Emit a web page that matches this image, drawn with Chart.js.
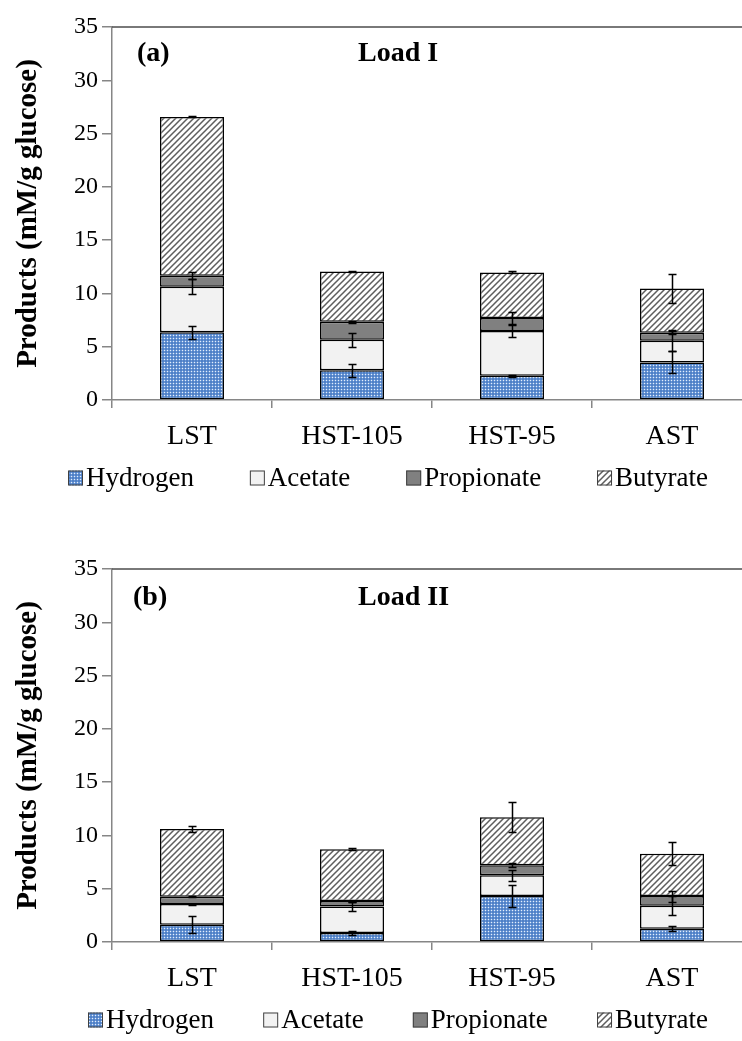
<!DOCTYPE html>
<html>
<head>
<meta charset="utf-8">
<script src="https://cdn.jsdelivr.net/npm/chart.js@4.4.1/dist/chart.umd.min.js"></script>
<style>
  html, body { margin: 0; padding: 0; background: #fff; overflow: hidden; }
  body { width: 742px; height: 1041px; position: relative; }
  .panel { position: absolute; left: 0; width: 770px; height: 499px; }
  #panelA { top: 0; }
  #panelB { top: 542px; }
</style>
</head>
<body>
<div class="panel" id="panelA"><canvas id="chartA"></canvas></div>
<div class="panel" id="panelB"><canvas id="chartB"></canvas></div>
<script>
const categories = ['LST', 'HST-105', 'HST-95', 'AST'];
const seriesNames = ['Hydrogen', 'Acetate', 'Propionate', 'Butyrate'];
const yMin = 0;
const yMax = 35;
const yStep = 5;

// (a) Load I  - stacked values and +/- error
const hydrogenI = [6.35, 2.80, 2.28, 3.53];
const acetateI = [4.28, 2.85, 4.19, 2.03];
const propionateI = [1.03, 1.69, 1.22, 0.75];
const butyrateI = [14.90, 4.72, 4.28, 4.16];
const hydrogenErrI = [0.62, 0.60, 0.10, 1.03];
const acetateErrI = [0.70, 0.65, 0.57, 1.00];
const propionateErrI = [0.33, 0.10, 0.58, 0.15];
const butyrateErrI = [0.05, 0.05, 0.10, 1.35];

// (b) Load II
const hydrogenII = [1.62, 0.84, 4.31, 1.24];
const acetateII = [1.94, 2.49, 1.96, 2.16];
const propionateII = [0.68, 0.51, 0.94, 0.91];
const butyrateII = [6.37, 4.87, 4.49, 3.96];
const hydrogenErrII = [0.78, 0.22, 1.07, 0.22];
const acetateErrII = [0.05, 0.40, 0.53, 0.87];
const propionateErrII = [0.05, 0.05, 0.19, 0.52];
const butyrateErrII = [0.30, 0.10, 1.42, 1.08];

const serif = "'Liberation Serif', 'Times New Roman', serif";
Chart.defaults.font.family = serif;
Chart.defaults.color = '#000';

const scratch = document.createElement('canvas').getContext('2d');

function dotsPattern() {
    const c = document.createElement('canvas');
    c.width = 3; c.height = 3;
    const g = c.getContext('2d');
    g.fillStyle = '#6a97d6';
    g.fillRect(0, 0, 3, 3);
    g.fillStyle = '#4f80c6';
    g.fillRect(0, 0, 2, 2);
    g.fillStyle = '#e6eef9';
    g.fillRect(2, 2, 1, 1);
    return scratch.createPattern(c, 'repeat');
}

function hatchPattern() {
    const n = 6;
    const c = document.createElement('canvas');
    c.width = n; c.height = n;
    const g = c.getContext('2d');
    g.fillStyle = '#ffffff';
    g.fillRect(0, 0, n, n);
    g.strokeStyle = '#5e5e5e';
    g.lineWidth = 1.5;
    g.beginPath();
    g.moveTo(-1, n + 1); g.lineTo(n + 1, -1);
    g.moveTo(-1, 1); g.lineTo(1, -1);
    g.moveTo(n - 1, n + 1); g.lineTo(n + 1, n - 1);
    g.stroke();
    return scratch.createPattern(c, 'repeat');
}

const fills = [dotsPattern(), '#f2f2f2', '#808080', hatchPattern()];

// error bars on top of each stacked segment
const errorBars = {
    id: 'errorBars',
    afterDatasetsDraw(chart) {
        const ctx = chart.ctx;
        const y = chart.scales.y;
        const sets = chart.data.datasets;
        ctx.save();
        ctx.strokeStyle = '#000';
        ctx.lineWidth = 1.5;
        sets.forEach((ds, i) => {
            chart.getDatasetMeta(i).data.forEach((bar, j) => {
                let top = 0;
                for (let k = 0; k <= i; k++) top += sets[k].data[j];
                const e = ds.errors[j];
                const hi = Math.round(y.getPixelForValue(top + e)) + 0.5;
                const lo = Math.round(y.getPixelForValue(top - e)) + 0.5;
                const x = Math.round(bar.x) + 0.5;
                ctx.beginPath();
                ctx.moveTo(x, hi); ctx.lineTo(x, lo);
                ctx.moveTo(x - 4, hi); ctx.lineTo(x + 4, hi);
                ctx.moveTo(x - 4, lo); ctx.lineTo(x + 4, lo);
                ctx.stroke();
            });
        });
        ctx.restore();
    }
};

// top frame line, panel tag, load title and the legend row
const panelDecor = {
    id: 'panelDecor',
    afterDraw(chart, args, opts) {
        const ctx = chart.ctx;
        const a = chart.chartArea;
        ctx.save();
        ctx.strokeStyle = '#4d4d4d';
        ctx.lineWidth = 1.5;
        ctx.beginPath();
        ctx.moveTo(a.left, a.top);
        ctx.lineTo(chart.width, a.top);
        ctx.stroke();

        ctx.fillStyle = '#000';
        ctx.textBaseline = 'middle';
        ctx.textAlign = 'left';
        ctx.font = 'bold 28px ' + serif;
        ctx.fillText(opts.tag, opts.tagX, opts.titleY);
        ctx.fillText(opts.load, opts.loadX, opts.titleY);

        // legend
        ctx.font = '27px ' + serif;
        const box = 15, gap = 3;
        const sets = chart.data.datasets;
        const widths = sets.map(ds => ctx.measureText(ds.label).width);
        const used = widths.reduce((s, w) => s + box + gap + w, 0);
        const spacing = (opts.legendEnd - opts.legendStart - used) / (sets.length - 1);
        let x = opts.legendStart;
        sets.forEach((ds, i) => {
            const by = opts.legendY - box / 2;
            ctx.fillStyle = ds.backgroundColor;
            ctx.fillRect(x, by, box, box);
            ctx.strokeStyle = '#404040';
            ctx.lineWidth = 1;
            ctx.strokeRect(x + 0.5, by + 0.5, box - 1, box - 1);
            ctx.fillStyle = '#000';
            ctx.fillText(ds.label, x + box + gap, opts.legendY + 1);
            x += box + gap + widths[i] + spacing;
        });
        ctx.restore();
    }
};

function makeChart(id, values, errors, decor) {
    const ctx = document.getElementById(id).getContext('2d');
    return new Chart(ctx, {
        type: 'bar',
        data: {
            labels: categories,
            datasets: seriesNames.map((name, i) => ({
                label: name,
                data: values[i],
                errors: errors[i],
                backgroundColor: fills[i],
                borderColor: '#000',
                borderWidth: 1.5,
                borderSkipped: false,
                barPercentage: 0.4,
                categoryPercentage: 1.0
            }))
        },
        options: {
            responsive: true,
            maintainAspectRatio: false,
            animation: false,
            layout: {
                padding: { top: 27, right: 18, bottom: 49, left: 0 }
            },
            plugins: {
                legend: { display: false },
                tooltip: { enabled: false },
                panelDecor: decor
            },
            scales: {
                x: {
                    stacked: true,
                    ticks: {
                        color: '#000',
                        font: { size: 28 },
                        padding: 12
                    },
                    grid: {
                        drawOnChartArea: false,
                        offset: true,
                        tickLength: 8,
                        color: '#868686',
                        lineWidth: 1.5
                    },
                    border: { color: '#868686', width: 1.5 },
                    afterFit: function (scale) {
                        scale.height = 50;
                    }
                },
                y: {
                    stacked: true,
                    min: yMin,
                    max: yMax,
                    ticks: {
                        stepSize: yStep,
                        color: '#000',
                        font: { size: 24 },
                        padding: 4
                    },
                    grid: {
                        drawOnChartArea: false,
                        tickLength: 10,
                        color: '#868686',
                        lineWidth: 1.5
                    },
                    border: { color: '#868686', width: 1.5 },
                    title: {
                        display: true,
                        text: 'Products (mM/g glucose)',
                        color: '#000',
                        font: { size: 29, weight: 'bold' },
                        padding: { top: 11, bottom: 0 }
                    },
                    afterFit: function (scale) {
                        scale.width = 112;
                    }
                }
            }
        },
        plugins: [errorBars, panelDecor]
    });
}

makeChart('chartA',
    [hydrogenI, acetateI, propionateI, butyrateI],
    [hydrogenErrI, acetateErrI, propionateErrI, butyrateErrI],
    { tag: '(a)', load: 'Load I', tagX: 137, loadX: 358, titleY: 54,
      legendStart: 68, legendEnd: 708, legendY: 478 });

makeChart('chartB',
    [hydrogenII, acetateII, propionateII, butyrateII],
    [hydrogenErrII, acetateErrII, propionateErrII, butyrateErrII],
    { tag: '(b)', load: 'Load II', tagX: 133, loadX: 358, titleY: 56,
      legendStart: 88, legendEnd: 708, legendY: 478 });
</script>
</body>
</html>
